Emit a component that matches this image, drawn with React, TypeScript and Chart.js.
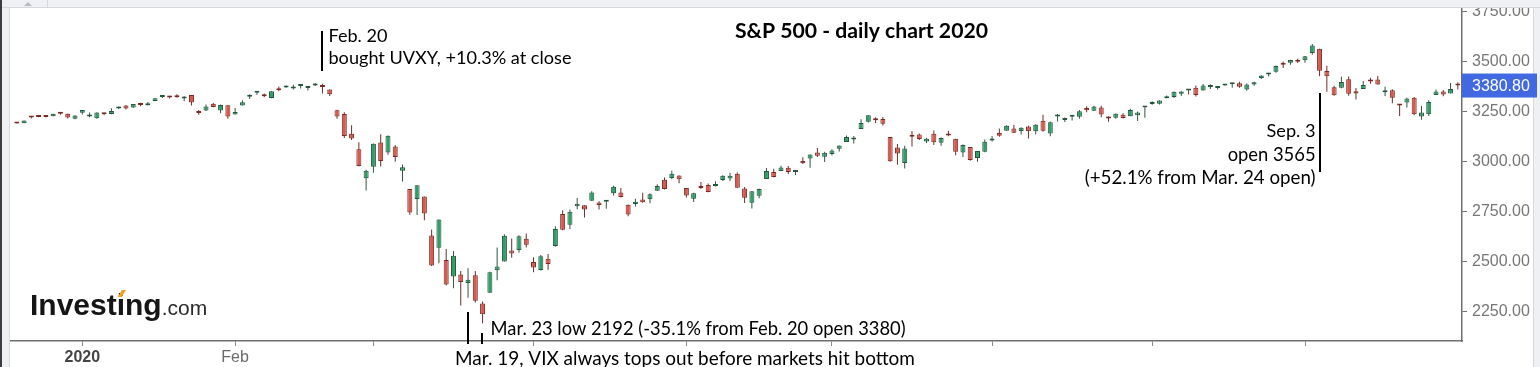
import React, { useEffect, useRef } from 'react';
import { Chart, registerables } from 'chart.js';

Chart.register(...registerables);

// ---------------- DATA ----------------
const dates: string[] = [
  // Dec 2019
  '2019-12-18', '2019-12-19', '2019-12-20', '2019-12-23', '2019-12-24', '2019-12-26', '2019-12-27', '2019-12-30', '2019-12-31',
  // Jan
  '2020-01-02', '2020-01-03', '2020-01-06', '2020-01-07', '2020-01-08', '2020-01-09', '2020-01-10', '2020-01-13', '2020-01-14', '2020-01-15', '2020-01-16', '2020-01-17', '2020-01-21', '2020-01-22', '2020-01-23', '2020-01-24', '2020-01-27', '2020-01-28', '2020-01-29', '2020-01-30', '2020-01-31',
  // Feb
  '2020-02-03', '2020-02-04', '2020-02-05', '2020-02-06', '2020-02-07', '2020-02-10', '2020-02-11', '2020-02-12', '2020-02-13', '2020-02-14', '2020-02-18', '2020-02-19', '2020-02-20', '2020-02-21', '2020-02-24', '2020-02-25', '2020-02-26', '2020-02-27', '2020-02-28',
  // Mar
  '2020-03-02', '2020-03-03', '2020-03-04', '2020-03-05', '2020-03-06', '2020-03-09', '2020-03-10', '2020-03-11', '2020-03-12', '2020-03-13', '2020-03-16', '2020-03-17', '2020-03-18', '2020-03-19', '2020-03-20', '2020-03-23', '2020-03-24', '2020-03-25', '2020-03-26', '2020-03-27', '2020-03-30', '2020-03-31',
  // Apr
  '2020-04-01', '2020-04-02', '2020-04-03', '2020-04-06', '2020-04-07', '2020-04-08', '2020-04-09', '2020-04-13', '2020-04-14', '2020-04-15', '2020-04-16', '2020-04-17', '2020-04-20', '2020-04-21', '2020-04-22', '2020-04-23', '2020-04-24', '2020-04-27', '2020-04-28', '2020-04-29', '2020-04-30',
  // May
  '2020-05-01', '2020-05-04', '2020-05-05', '2020-05-06', '2020-05-07', '2020-05-08', '2020-05-11', '2020-05-12', '2020-05-13', '2020-05-14', '2020-05-15', '2020-05-18', '2020-05-19', '2020-05-20', '2020-05-21', '2020-05-22', '2020-05-26', '2020-05-27', '2020-05-28', '2020-05-29',
  // Jun
  '2020-06-01', '2020-06-02', '2020-06-03', '2020-06-04', '2020-06-05', '2020-06-08', '2020-06-09', '2020-06-10', '2020-06-11', '2020-06-12', '2020-06-15', '2020-06-16', '2020-06-17', '2020-06-18', '2020-06-19', '2020-06-22', '2020-06-23', '2020-06-24', '2020-06-25', '2020-06-26', '2020-06-29', '2020-06-30',
  // Jul
  '2020-07-01', '2020-07-02', '2020-07-06', '2020-07-07', '2020-07-08', '2020-07-09', '2020-07-10', '2020-07-13', '2020-07-14', '2020-07-15', '2020-07-16', '2020-07-17', '2020-07-20', '2020-07-21', '2020-07-22', '2020-07-23', '2020-07-24', '2020-07-27', '2020-07-28', '2020-07-29', '2020-07-30', '2020-07-31',
  // Aug
  '2020-08-03', '2020-08-04', '2020-08-05', '2020-08-06', '2020-08-07', '2020-08-10', '2020-08-11', '2020-08-12', '2020-08-13', '2020-08-14', '2020-08-17', '2020-08-18', '2020-08-19', '2020-08-20', '2020-08-21', '2020-08-24', '2020-08-25', '2020-08-26', '2020-08-27', '2020-08-28', '2020-08-31',
  // Sep
  '2020-09-01', '2020-09-02', '2020-09-03', '2020-09-04', '2020-09-08', '2020-09-09', '2020-09-10', '2020-09-11', '2020-09-14', '2020-09-15', '2020-09-16', '2020-09-17', '2020-09-18', '2020-09-21', '2020-09-22', '2020-09-23', '2020-09-24', '2020-09-25', '2020-09-28', '2020-09-29', '2020-09-30',
  // Oct
  '2020-10-01',
];

const opens: number[] = [
  3195.2, 3192.3, 3223.3, 3226.1, 3225.5, 3227.2, 3247.2, 3240.1, 3215.2,
  3244.7, 3226.4, 3217.6, 3241.9, 3238.6, 3266.0, 3281.0, 3271.1, 3285.4, 3282.3, 3303.0, 3323.7, 3321.0, 3330.0, 3315.8, 3333.1, 3247.2, 3255.4, 3289.5, 3256.5, 3282.3,
  3235.7, 3280.6, 3324.9, 3344.9, 3335.5, 3318.3, 3365.9, 3370.5, 3365.9, 3378.1, 3369.0, 3380.4, 3380.5, 3360.5, 3257.6, 3238.9, 3139.9, 3062.5, 2916.9,
  2974.3, 3096.5, 3045.8, 3075.7, 2954.2, 2863.9, 2813.5, 2825.6, 2630.9, 2570.0, 2508.6, 2425.7, 2436.5, 2393.5, 2431.9, 2290.7, 2344.4, 2457.8, 2501.3, 2555.9, 2559.0, 2614.7,
  2498.1, 2458.5, 2514.9, 2578.3, 2738.7, 2685.0, 2777.0, 2782.5, 2805.1, 2795.6, 2799.3, 2842.4, 2845.6, 2784.8, 2787.9, 2810.4, 2812.6, 2854.7, 2910.0, 2918.5, 2930.9,
  2869.1, 2815.0, 2868.9, 2883.1, 2878.3, 2908.8, 2915.5, 2939.5, 2865.9, 2794.5, 2830.0, 2913.9, 2948.6, 2953.6, 2970.0, 2948.1, 3004.1, 3015.7, 3046.6, 3025.2,
  3038.8, 3064.8, 3098.9, 3111.6, 3163.8, 3199.9, 3213.3, 3213.4, 3123.5, 3071.0, 2993.8, 3131.0, 3136.1, 3101.6, 3140.3, 3094.4, 3138.7, 3114.4, 3046.6, 3073.2, 3018.6, 3050.2,
  3105.9, 3143.6, 3155.3, 3166.4, 3153.1, 3176.2, 3152.5, 3205.1, 3141.1, 3226.0, 3208.4, 3224.2, 3224.3, 3268.5, 3254.9, 3271.6, 3218.6, 3219.8, 3234.3, 3227.2, 3231.8, 3270.5,
  3288.3, 3289.9, 3317.4, 3323.2, 3340.1, 3356.0, 3370.3, 3355.5, 3373.0, 3368.7, 3380.9, 3387.0, 3392.5, 3360.5, 3386.0, 3418.1, 3436.0, 3450.0, 3485.1, 3494.7, 3509.7,
  3507.4, 3543.8, 3564.7, 3453.6, 3371.9, 3369.8, 3412.6, 3352.7, 3363.6, 3407.7, 3411.2, 3346.9, 3357.4, 3285.6, 3295.8, 3320.1, 3226.1, 3236.7, 3333.9, 3350.9, 3341.2,
  3385.9,
];

const highs: number[] = [
  3198.5, 3205.5, 3225.7, 3227.8, 3226.4, 3240.1, 3247.9, 3240.9, 3231.7,
  3258.1, 3246.2, 3246.8, 3244.9, 3267.1, 3275.6, 3283.0, 3288.1, 3294.3, 3298.7, 3317.1, 3329.9, 3329.8, 3337.8, 3326.9, 3333.2, 3258.9, 3285.8, 3293.5, 3285.9, 3282.3,
  3268.4, 3306.9, 3337.6, 3348.0, 3341.4, 3352.3, 3375.6, 3381.5, 3385.1, 3380.7, 3375.0, 3393.5, 3389.2, 3360.8, 3259.8, 3247.0, 3182.5, 3097.1, 2959.7,
  3091.0, 3136.7, 3131.0, 3083.0, 2985.9, 2863.9, 2882.6, 2825.6, 2661.0, 2711.3, 2563.0, 2553.9, 2453.6, 2467.0, 2453.0, 2300.7, 2449.7, 2571.4, 2637.0, 2615.9, 2631.8, 2641.4,
  2522.8, 2533.2, 2538.2, 2676.9, 2756.9, 2760.8, 2818.6, 2782.5, 2851.9, 2801.9, 2806.5, 2879.2, 2869.0, 2785.5, 2815.1, 2844.9, 2842.7, 2887.7, 2921.2, 2954.9, 2930.9,
  2869.1, 2844.2, 2898.2, 2891.1, 2901.9, 2932.2, 2944.3, 2945.8, 2874.1, 2852.8, 2865.0, 2968.1, 2964.2, 2980.3, 2978.5, 2956.8, 3021.7, 3036.3, 3068.7, 3049.2,
  3062.2, 3081.1, 3130.9, 3128.9, 3211.7, 3233.1, 3222.7, 3223.3, 3123.5, 3088.4, 3079.8, 3153.5, 3141.2, 3120.0, 3155.5, 3120.9, 3154.9, 3115.0, 3086.3, 3073.7, 3053.9, 3111.5,
  3128.4, 3165.8, 3182.6, 3184.2, 3171.8, 3179.8, 3186.8, 3235.3, 3201.0, 3238.3, 3220.4, 3233.5, 3258.6, 3277.3, 3279.3, 3280.0, 3227.3, 3241.4, 3243.7, 3264.7, 3250.9, 3272.2,
  3302.7, 3306.8, 3330.8, 3351.0, 3352.5, 3363.3, 3381.0, 3387.9, 3387.2, 3378.5, 3387.6, 3395.1, 3399.5, 3390.8, 3400.0, 3432.1, 3444.2, 3481.1, 3501.4, 3509.2, 3514.8,
  3528.0, 3588.1, 3564.9, 3479.2, 3380.0, 3424.8, 3425.6, 3369.0, 3402.9, 3419.5, 3428.9, 3375.2, 3362.3, 3285.6, 3320.3, 3323.4, 3278.7, 3306.9, 3360.7, 3357.9, 3393.6,
  3397.2,
];

const lows: number[] = [
  3191.0, 3192.3, 3216.0, 3222.3, 3220.5, 3227.2, 3234.4, 3216.6, 3212.0,
  3235.5, 3222.3, 3214.6, 3232.4, 3236.7, 3263.7, 3260.9, 3268.4, 3277.2, 3280.7, 3302.8, 3318.9, 3316.6, 3320.0, 3301.9, 3281.5, 3234.5, 3253.2, 3271.9, 3242.8, 3214.7,
  3235.7, 3280.6, 3313.8, 3334.4, 3322.1, 3317.8, 3352.7, 3369.7, 3360.5, 3366.2, 3355.6, 3378.8, 3341.0, 3328.5, 3214.7, 3118.8, 3109.0, 2977.4, 2855.8,
  2945.2, 2976.6, 3034.4, 2999.8, 2901.5, 2734.4, 2734.0, 2707.2, 2478.9, 2492.4, 2380.9, 2367.0, 2280.5, 2319.8, 2295.6, 2191.9, 2344.4, 2407.5, 2500.7, 2520.0, 2545.3, 2571.2,
  2447.5, 2455.8, 2460.0, 2574.6, 2657.7, 2663.3, 2762.4, 2721.2, 2805.1, 2761.5, 2764.3, 2830.9, 2820.4, 2727.1, 2776.0, 2794.3, 2791.8, 2852.9, 2860.7, 2912.2, 2892.5,
  2821.6, 2797.9, 2863.6, 2847.7, 2876.5, 2902.9, 2903.4, 2869.6, 2793.2, 2766.6, 2816.8, 2913.9, 2922.4, 2953.6, 2938.6, 2933.6, 2988.2, 2969.8, 3023.4, 2998.6,
  3031.5, 3051.6, 3098.9, 3090.4, 3163.8, 3196.0, 3193.1, 3181.5, 2999.5, 2984.5, 2965.7, 3076.1, 3108.0, 3093.5, 3083.1, 3079.4, 3127.1, 3032.1, 3024.0, 3004.6, 2999.7, 3047.8,
  3101.2, 3124.5, 3155.3, 3142.9, 3136.5, 3115.7, 3136.2, 3149.4, 3127.7, 3200.8, 3198.6, 3205.7, 3215.2, 3247.8, 3253.1, 3222.7, 3200.1, 3214.3, 3216.2, 3227.2, 3204.1, 3220.3,
  3284.5, 3286.4, 3317.4, 3318.1, 3328.7, 3335.4, 3326.4, 3355.5, 3363.4, 3361.6, 3379.2, 3370.2, 3369.7, 3354.7, 3379.3, 3413.1, 3425.8, 3444.2, 3468.4, 3484.3, 3493.3,
  3494.6, 3535.2, 3427.4, 3349.6, 3329.3, 3366.8, 3329.3, 3310.5, 3363.6, 3389.3, 3384.5, 3328.8, 3292.4, 3229.1, 3271.0, 3232.6, 3209.5, 3228.4, 3332.9, 3327.5, 3340.5,
  3361.4,
];

const closes: number[] = [
  3191.1, 3205.4, 3221.2, 3224.0, 3223.4, 3239.9, 3240.0, 3221.3, 3230.8,
  3257.9, 3234.9, 3246.3, 3237.2, 3253.1, 3274.7, 3265.4, 3288.1, 3283.2, 3289.3, 3316.8, 3329.6, 3320.8, 3321.8, 3325.5, 3295.5, 3243.6, 3276.2, 3273.4, 3283.7, 3225.5,
  3248.9, 3297.6, 3334.7, 3345.8, 3327.7, 3352.1, 3357.8, 3379.5, 3373.9, 3380.2, 3370.3, 3386.2, 3373.2, 3337.8, 3225.9, 3128.2, 3116.4, 2978.8, 2954.2,
  3090.2, 3003.4, 3130.1, 3023.9, 2972.4, 2746.6, 2882.2, 2741.4, 2480.6, 2711.0, 2386.1, 2529.2, 2398.1, 2409.4, 2304.9, 2237.4, 2447.3, 2475.6, 2630.1, 2541.5, 2626.7, 2584.6,
  2470.5, 2526.9, 2488.7, 2663.7, 2659.4, 2750.0, 2789.8, 2761.6, 2846.1, 2783.4, 2799.6, 2874.6, 2823.2, 2736.6, 2799.3, 2797.8, 2836.7, 2878.5, 2863.4, 2939.5, 2912.4,
  2830.7, 2842.7, 2868.4, 2848.4, 2881.2, 2929.8, 2930.3, 2870.1, 2820.0, 2852.5, 2863.7, 2953.9, 2922.9, 2971.6, 2948.5, 2955.5, 2991.8, 3036.1, 3029.7, 3044.3,
  3055.7, 3080.8, 3122.9, 3112.4, 3193.9, 3232.4, 3207.2, 3190.1, 3002.1, 3041.3, 3066.6, 3124.7, 3113.5, 3115.3, 3097.7, 3117.9, 3131.3, 3050.3, 3083.8, 3009.1, 3053.2, 3100.3,
  3115.9, 3130.0, 3179.7, 3145.3, 3169.9, 3152.1, 3185.0, 3155.2, 3197.5, 3226.6, 3215.6, 3224.7, 3251.8, 3257.3, 3276.0, 3235.7, 3215.6, 3239.4, 3218.4, 3258.4, 3246.2, 3271.1,
  3294.6, 3306.5, 3327.8, 3349.2, 3351.3, 3360.5, 3333.7, 3380.4, 3373.4, 3372.9, 3382.0, 3389.8, 3374.9, 3385.5, 3397.2, 3431.3, 3443.6, 3478.7, 3484.6, 3508.0, 3500.3,
  3526.7, 3580.8, 3455.1, 3427.0, 3331.8, 3399.0, 3339.2, 3341.0, 3383.5, 3401.2, 3385.5, 3357.0, 3319.5, 3281.1, 3315.6, 3236.9, 3246.6, 3298.5, 3351.6, 3335.5, 3363.0,
  3380.8,
];

const tickDates: string[] = ['2020-01-02', '2020-02-03', '2020-03-02', '2020-04-01', '2020-05-01', '2020-06-01', '2020-07-01', '2020-08-03', '2020-09-01'];
const tickLabels: string[] = ['2020', 'Feb', '', '', '', '', '', '', ''];
const yTickValues: number[] = [2250, 2500, 2750, 3000, 3250, 3500, 3750];
const lastPrice = 3380.8;

const titleText = 'S&P 500 - daily chart 2020';
const noteFeb20 = ['Feb. 20', 'bought UVXY, +10.3% at close'];
const noteSep3 = ['Sep. 3', 'open 3565', '(+52.1% from Mar. 24 open)'];
const noteMar23 = 'Mar. 23 low 2192 (-35.1% from Feb. 20 open 3380)';
const noteMar19 = 'Mar. 19, VIX always tops out before markets hit bottom';

// ---------------- STYLE ----------------
const UP_FILL = '#2f9e68';
const UP_BORDER = '#24573e';
const DOWN_FILL = '#d65a50';
const DOWN_BORDER = '#7a2b25';
const UP_WICK = '#2f5542';
const DOWN_WICK = '#6a2e28';
const ANNOT_FONT = 'Lato';

function fitText(ctx: any, text: string, x: number, y: number, w: number, weight: string, align: string) {
  ctx.font = `${weight} 16px ${ANNOT_FONT}`;
  const m = ctx.measureText(text).width;
  const size = (16 * w) / m;
  ctx.font = `${weight} ${size.toFixed(2)}px ${ANNOT_FONT}`;
  ctx.textAlign = align;
  ctx.textBaseline = 'alphabetic';
  ctx.fillText(text, x, y);
}

const overlayPlugin = {
  id: 'overlay',
  afterDraw(chart: any) {
    const ctx = chart.ctx;
    const xs = chart.scales.x;
    const ys = chart.scales.y;
    const W = chart.width;
    const H = chart.height;
    ctx.save();

    // window frame
    ctx.fillStyle = '#eef0f3';
    ctx.fillRect(0, 0, W, 7);
    ctx.fillRect(0, 0, 9, H);
    ctx.fillRect(1534, 0, W - 1534, H);
    ctx.fillStyle = '#3d3d3d';
    ctx.fillRect(0, 0, 2, H);
    ctx.fillStyle = '#d5d8dc';
    ctx.fillRect(2, 7, W - 2, 1);
    ctx.fillRect(9, 7, 1, H - 7);
    ctx.fillRect(1533, 7, 1, H - 7);
    ctx.fillRect(47, 0, 1, 7);
    ctx.fillStyle = '#b8bbc0';
    ctx.beginPath();
    ctx.moveTo(24, 6);
    ctx.lineTo(32, 6);
    ctx.lineTo(28, 2);
    ctx.closePath();
    ctx.fill();

    // last price box
    const py = ys.getPixelForValue(lastPrice);
    ctx.fillStyle = '#4169e1';
    ctx.fillRect(chart.chartArea.right, py - 12, 75, 24);
    ctx.fillStyle = '#ffffff';
    ctx.font = '16px "Liberation Sans", Arial, sans-serif';
    ctx.textAlign = 'left';
    ctx.textBaseline = 'middle';
    ctx.fillText(lastPrice.toFixed(2), chart.chartArea.right + 10, py + 1);

    // logo
    ctx.fillStyle = '#151515';
    ctx.textBaseline = 'alphabetic';
    ctx.font = 'bold 30px "Liberation Sans", Arial, sans-serif';
    const lw = ctx.measureText('Investing').width;
    const pre = ctx.measureText('Invest').width;
    const iw = ctx.measureText('i').width;
    ctx.fillText('Investing', 30, 315);
    ctx.font = '21px "Liberation Sans", Arial, sans-serif';
    ctx.fillStyle = '#2a2a2a';
    ctx.fillText('.com', 30 + lw, 315);
    ctx.fillStyle = '#f5a31c';
    ctx.beginPath();
    const ix = 30 + pre + iw / 2;
    ctx.moveTo(ix - 3, 297);
    ctx.lineTo(ix + 1, 297);
    ctx.lineTo(ix + 5, 290);
    ctx.lineTo(ix + 1, 290);
    ctx.closePath();
    ctx.fill();

    // title
    ctx.fillStyle = '#000';
    fitText(ctx, titleText, 735, 38, 253, 'bold', 'left');

    // annotation lines
    const xFeb20 = xs.getPixelForValue(dates.indexOf('2020-02-20'));
    const xSep3 = xs.getPixelForValue(dates.indexOf('2020-09-03'));
    const xMar19 = xs.getPixelForValue(dates.indexOf('2020-03-19'));
    const xMar23 = xs.getPixelForValue(dates.indexOf('2020-03-23'));
    ctx.fillStyle = '#000';
    ctx.fillRect(Math.round(xFeb20) - 1, 31, 2, 40);
    ctx.fillRect(Math.round(xSep3) - 1, 93, 2, 79);
    ctx.fillRect(Math.round(xMar19) - 1, 312, 2, 32);
    ctx.fillRect(Math.round(xMar23) - 2, 333, 2, 11);

    // annotation texts
    fitText(ctx, noteFeb20[0], xFeb20 + 6, 42, 59, 'normal', 'left');
    fitText(ctx, noteFeb20[1], xFeb20 + 6, 64, 243, 'normal', 'left');
    fitText(ctx, noteSep3[0], xSep3 - 4, 137, 49, 'normal', 'right');
    fitText(ctx, noteSep3[1], xSep3 - 4, 161, 88, 'normal', 'right');
    fitText(ctx, noteSep3[2], xSep3 - 4, 184, 231, 'normal', 'right');
    fitText(ctx, noteMar23, xMar23 + 8, 335, 415, 'normal', 'left');
    fitText(ctx, noteMar19, xMar19 - 13, 365, 460, 'normal', 'left');

    ctx.restore();
  },
};

export default function App() {
  const ref = useRef<HTMLCanvasElement | null>(null);

  useEffect(() => {
    if (!ref.current) return;
    const n = dates.length;
    const isUp = (i: number) => closes[i] >= opens[i];
    const tickIdx = tickDates.map((d) => dates.indexOf(d));

    const wickData = dates.map((_, i) => ({ x: i, y: [lows[i], highs[i]] }));
    const bodyData = dates.map((_, i) => ({ x: i, y: [Math.min(opens[i], closes[i]), Math.max(opens[i], closes[i])] }));

    const chart = new Chart(ref.current, {
      type: 'bar',
      data: {
        datasets: [
          {
            label: 'wick',
            data: wickData as any,
            backgroundColor: dates.map((_, i) => (isUp(i) ? UP_WICK : DOWN_WICK)),
            borderWidth: 0,
            barThickness: 1,
            grouped: false,
            order: 2,
            inflateAmount: 0,
            clip: 0,
          } as any,
          {
            label: 'body',
            data: bodyData as any,
            backgroundColor: dates.map((_, i) => (isUp(i) ? UP_FILL : DOWN_FILL)),
            borderColor: dates.map((_, i) => (isUp(i) ? UP_BORDER : DOWN_BORDER)),
            borderWidth: 1,
            borderSkipped: false,
            barThickness: 5,
            minBarLength: 2,
            grouped: false,
            order: 1,
            inflateAmount: 0,
            clip: 0,
          } as any,
        ],
      },
      options: {
        animation: false,
        responsive: false,
        maintainAspectRatio: false,
        events: [],
        layout: { padding: { left: 9, top: 0, right: 0, bottom: 0 } },
        plugins: { legend: { display: false }, tooltip: { enabled: false }, title: { display: false } },
        scales: {
          x: {
            type: 'linear',
            position: 'bottom',
            min: -1.07,
            max: n - 1 + 0.57,
            offset: false,
            grid: { display: true, drawOnChartArea: false, drawTicks: true, tickLength: 5, color: '#8a8a8a', offset: false },
            border: { display: true, color: '#6f6f6f', width: 1.5 },
            afterBuildTicks: (s: any) => {
              s.ticks = tickIdx.map((v) => ({ value: v }));
            },
            afterFit: (s: any) => {
              s.height = 26;
              s.paddingLeft = 0;
              s.paddingRight = 0;
            },
            ticks: {
              autoSkip: false,
              maxRotation: 0,
              padding: 2,
              callback: (v: any) => {
                const k = tickIdx.indexOf(v);
                return k >= 0 ? tickLabels[k] : '';
              },
              font: (c: any) =>
                c.tick && c.tick.label === '2020'
                  ? { family: '"Liberation Sans", Arial, sans-serif', size: 16, weight: 'bold' }
                  : { family: '"Liberation Sans", Arial, sans-serif', size: 16, weight: 'normal' },
              color: (c: any) => (c.tick && c.tick.label === '2020' ? '#454545' : '#6a6a6a'),
            },
          },
          y: {
            type: 'linear',
            position: 'right',
            min: 2103.5,
            max: 3808.5,
            grid: { display: true, drawOnChartArea: false, drawTicks: true, tickLength: 5, color: '#6f6f6f' },
            border: { display: true, color: '#6f6f6f', width: 1.5 },
            afterBuildTicks: (s: any) => {
              s.ticks = yTickValues.map((v) => ({ value: v }));
            },
            afterFit: (s: any) => {
              s.width = 78;
              s.paddingTop = 0;
              s.paddingBottom = 0;
            },
            ticks: {
              padding: 5,
              callback: (v: any) => Number(v).toFixed(2),
              font: { family: '"Liberation Sans", Arial, sans-serif', size: 16 },
              color: '#777777',
            },
          },
        },
      } as any,
      plugins: [overlayPlugin],
    });

    return () => chart.destroy();
  }, []);

  return (
    <div style={{ position: 'absolute', left: 0, top: 0, width: 1540, height: 367, background: '#ffffff' }}>
      <canvas ref={ref} width={1540} height={367} style={{ display: 'block' }} />
    </div>
  );
}
